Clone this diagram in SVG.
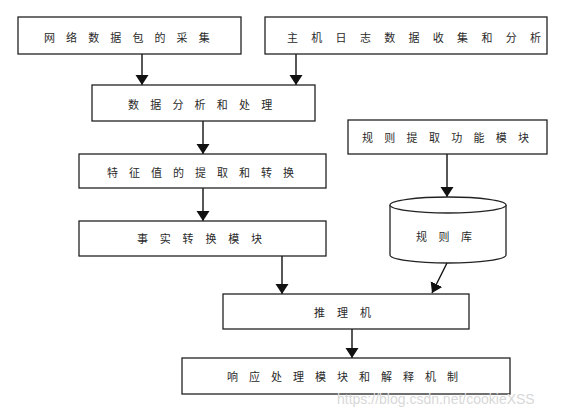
<svg xmlns="http://www.w3.org/2000/svg" width="568" height="418" viewBox="0 0 568 418">
<style>
.box{fill:#fff;stroke:#222;stroke-width:1.3}
.t{font-family:"Noto Sans CJK SC","Liberation Sans",sans-serif;font-size:11px;fill:#2a2a2a}
.c{stroke:#111;stroke-width:1.4;fill:none}
.wm{font-family:"Liberation Sans",Arial,sans-serif;font-size:14px;fill:#d8d8d8}
</style>
<defs>
<marker id="ah" markerWidth="10" markerHeight="14" refX="10" refY="7" orient="auto" markerUnits="userSpaceOnUse">
<path d="M0,0.5 L10,7 L0,13.5 Z" fill="#111"/>
</marker>
</defs>
<rect width="568" height="418" fill="#fff"/>
<g id="connectors">
<line class="c" x1="142" y1="54" x2="142" y2="85" marker-end="url(#ah)"/>
<line class="c" x1="296" y1="54" x2="296" y2="85" marker-end="url(#ah)"/>
<line class="c" x1="203" y1="121" x2="203" y2="154" marker-end="url(#ah)"/>
<line class="c" x1="203" y1="188" x2="203" y2="221" marker-end="url(#ah)"/>
<line class="c" x1="447" y1="154" x2="447" y2="197" marker-end="url(#ah)"/>
<line class="c" x1="282" y1="256" x2="282" y2="294" marker-end="url(#ah)"/>
<line class="c" x1="447" y1="263" x2="432" y2="293" stroke-width="1" marker-end="url(#ah)"/>
<line class="c" x1="352" y1="329" x2="352" y2="358" marker-end="url(#ah)"/>
</g>
<g id="n1"><rect class="box" x="18" y="17" width="223" height="37"/><text class="t" x="44" y="42" letter-spacing="11.1">网络数据包的采集</text></g>
<g id="n2"><rect class="box" x="265" y="17" width="282" height="37"/><text class="t" x="287" y="42" letter-spacing="13.3">主机日志数据收集和分析</text></g>
<g id="n3"><rect class="box" x="92" y="85" width="223" height="36"/><text class="t" x="128" y="109" letter-spacing="11.2">数据分析和处理</text></g>
<g id="n4"><rect class="box" x="348" y="120" width="199" height="34"/><text class="t" x="362" y="142" letter-spacing="11.3">规则提取功能模块</text></g>
<g id="n5"><rect class="box" x="79" y="154" width="247" height="34"/><text class="t" x="107" y="177" letter-spacing="11">特征值的提取和转换</text></g>
<g id="n6"><rect class="box" x="79" y="221" width="247" height="35"/><text class="t" x="137" y="243" letter-spacing="11.8">事实转换模块</text></g>
<g id="n7">
<path class="box" d="M390,205 L390,255 A58,8 0 0 0 506,255 L506,205"/>
<ellipse class="box" cx="448" cy="205" rx="58" ry="8"/>
<text class="t" x="416" y="241" letter-spacing="11.5">规则库</text>
</g>
<g id="n8"><rect class="box" x="223" y="294" width="246" height="35"/><text class="t" x="314" y="317" letter-spacing="12">推理机</text></g>
<g id="n9"><rect class="box" x="182" y="358" width="328" height="36"/><text class="t" x="227" y="381" letter-spacing="11">响应处理模块和解释机制</text></g>
<text class="wm" x="337" y="404">https://blog.csdn.net/cookieXSS</text>
</svg>
